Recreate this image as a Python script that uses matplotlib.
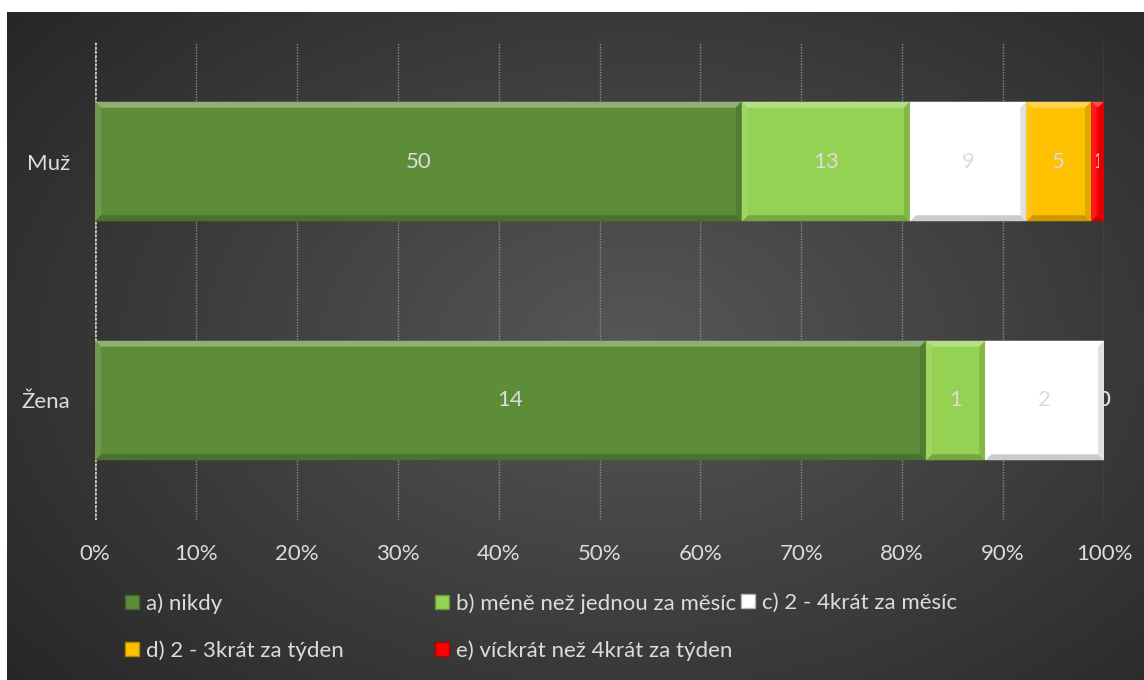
import numpy as np
import matplotlib
matplotlib.use('Agg')
import matplotlib.pyplot as plt
from matplotlib.patches import Polygon, Patch
from matplotlib.transforms import IdentityTransform
from matplotlib.colors import to_rgb

plt.rcParams['font.family'] = ['Lato', 'DejaVu Sans']

groups = ['Muž', 'Žena']
labels = ['a) nikdy', 'b) méně než jednou za měsíc', 'c) 2 - 4krát za měsíc',
          'd) 2 - 3krát za týden', 'e) víckrát než 4krát za týden']
nikdy = [50, 14]
mene_nez_mesicne = [13, 1]
mesicne_2_4 = [9, 2]
tydne_2_3 = [5, 0]
vickrat = [1, 0]
colors = ['#5e8d3a', '#95d152', '#ffffff', '#ffc000', '#ff0000']

series = [nikdy, mene_nez_mesicne, mesicne_2_4, tydne_2_3, vickrat]
totals = np.sum(series, axis=0)
TXT = '#dcdcdc'
FS = 16

W, H = 1144, 680
fig = plt.figure(figsize=(W / 100, H / 100), dpi=100)
fig.patch.set_facecolor('white')

# dark panel with a soft radial highlight
bg = fig.add_axes([7 / W, 0, 1 - 7 / W, 1 - 12 / H], zorder=-10)
yy, xx = np.mgrid[0:1:300j, 0:1:500j]
r = np.sqrt(((xx - 0.55) / 0.75) ** 2 + ((yy - 0.5) / 0.85) ** 2)
shade = np.clip(0.34 - 0.2 * r, 0.15, 0.34)
bg.imshow(np.dstack([shade] * 3), aspect='auto', extent=[0, 1, 0, 1])
bg.axis('off')

ax = fig.add_axes([95 / W, 1 - 520 / H, 1009 / W, 478 / H])
ax.set_facecolor('none')
y = np.arange(len(groups))
left = np.zeros(len(groups))
bars = []
for vals, lab, col in zip(series, labels, colors):
    pct = np.array(vals) / totals * 100
    b = ax.barh(y, pct, left=left, height=0.5, color=col, label=lab, zorder=3)
    ax.bar_label(b, labels=[str(v) for v in vals], label_type='center',
                 color=TXT, fontsize=FS)
    bars.append((b, col))
    left += pct

ax.set_xlim(0, 100)
ax.set_ylim(1.5, -0.5)
ax.set_xticks(np.arange(0, 101, 10))
ax.set_xticklabels([f'{t}%' for t in range(0, 101, 10)])
ax.set_yticks(y)
ax.set_yticklabels(groups)
ax.tick_params(length=0, colors=TXT, labelsize=FS)
ax.tick_params(axis='x', pad=17)
ax.tick_params(axis='y', pad=18)
ax.grid(axis='x', color='#8a8a8a', linestyle=(0, (1, 1)), lw=1, zorder=0)
for s in ax.spines.values():
    s.set_visible(False)
ax.axvline(0, color='#c8c8c8', lw=2, linestyle=(0, (1, 0.5)), zorder=2)


def mix(c, other, t):
    c, o = np.array(to_rgb(c)), np.array(to_rgb(other))
    return tuple(c * (1 - t) + o * t)


def bevel(rect, col, w=6):
    x0, y0 = ax.transData.transform((rect.get_x(), rect.get_y()))
    x1, y1 = ax.transData.transform((rect.get_x() + rect.get_width(),
                                     rect.get_y() + rect.get_height()))
    x0, x1 = sorted((x0, x1))
    y0, y1 = sorted((y0, y1))
    if x1 - x0 < 1:
        return
    w = min(w, (x1 - x0) / 2.5)
    sides = [
        ([(x0, y1), (x1, y1), (x1 - w, y1 - w), (x0 + w, y1 - w)], mix(col, 'white', 0.3)),
        ([(x0, y0), (x1, y0), (x1 - w, y0 + w), (x0 + w, y0 + w)], mix(col, 'black', 0.2)),
        ([(x0, y0), (x0, y1), (x0 + w, y1 - w), (x0 + w, y0 + w)], mix(col, 'white', 0.1)),
        ([(x1, y0), (x1, y1), (x1 - w, y1 - w), (x1 - w, y0 + w)], mix(col, 'black', 0.12)),
    ]
    for pts, c in sides:
        fig.add_artist(Polygon(pts, closed=True, facecolor=c, edgecolor='none',
                               transform=IdentityTransform(), zorder=4))


for b, col in bars:
    for rect in b:
        bevel(rect, col)

# keep value labels above the bevels
for t in ax.texts:
    t.set_zorder(6)

handles = [Patch(facecolor=c, edgecolor=mix(c, 'black', 0.3), label=l)
           for c, l in zip(colors, labels)]
columns = [([0, 3], 130), ([1, 4], 440), ([2], 746)]
for idx, xpx in columns:
    fig.legend([handles[i] for i in idx], [labels[i] for i in idx],
               loc='upper left', bbox_to_anchor=(xpx / W - 0.004, 1 - 593 / H),
               frameon=False, fontsize=FS, labelcolor=TXT,
               handlelength=0.62, handleheight=0.62, handletextpad=0.3,
               labelspacing=1.2, borderaxespad=0, borderpad=0)

fig.savefig('out.png', dpi=100)
